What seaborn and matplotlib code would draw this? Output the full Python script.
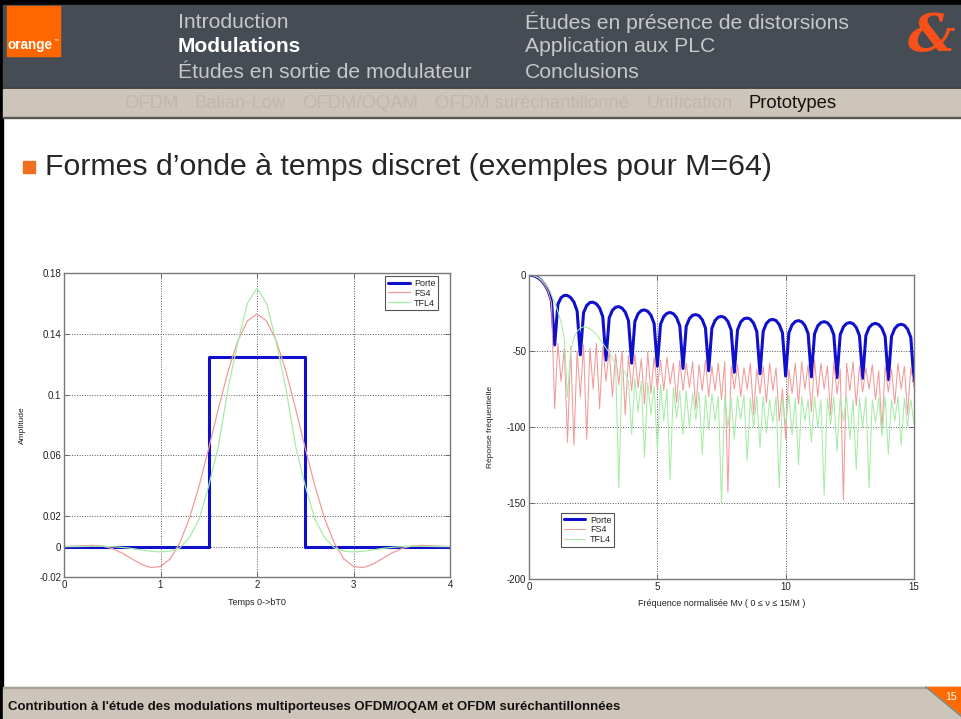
import numpy as np
import pandas as pd
import matplotlib
matplotlib.use("Agg")
import matplotlib.pyplot as plt
import seaborn as sns
from matplotlib.patches import Rectangle, Polygon

# ---------------- data ----------------
series_names = ["Porte", "FS4", "TFL4"]

# left chart: time-domain prototypes (time in units of T0)
porte_t = [0.0, 1.5, 1.5, 2.5, 2.5, 4.0]
porte_amp = [0.0, 0.0, 0.125, 0.125, 0.0, 0.0]

time_t = [0.0, 0.1, 0.2, 0.3, 0.4, 0.5, 0.6, 0.7, 0.8, 0.9, 1.0,
          1.1, 1.2, 1.3, 1.4, 1.5, 1.6, 1.7, 1.8, 1.9, 2.0,
          2.1, 2.2, 2.3, 2.4, 2.5, 2.6, 2.7, 2.8, 2.9, 3.0,
          3.1, 3.2, 3.3, 3.4, 3.5, 3.6, 3.7, 3.8, 3.9, 4.0]
fs4_amp = [0.0, 0.0002, 0.0006, 0.0008, 0.0003, -0.0013, -0.0042, -0.0079, -0.0116, -0.0138, -0.0131,
           -0.0081, 0.0024, 0.0186, 0.0399, 0.0647, 0.0908, 0.1153, 0.1353, 0.1484, 0.1530,
           0.1484, 0.1353, 0.1153, 0.0908, 0.0647, 0.0399, 0.0186, 0.0024, -0.0081, -0.0131,
           -0.0138, -0.0116, -0.0079, -0.0042, -0.0013, 0.0003, 0.0008, 0.0006, 0.0002, 0.0]
tfl4_amp = [0.0, 0.0, 0.0001, 0.0002, 0.0002, 0.0, -0.0005, -0.0012, -0.0022, -0.0031, -0.0035,
            -0.0030, -0.0008, 0.0060, 0.0180, 0.0400, 0.0660, 0.1040, 0.1340, 0.1600, 0.1700,
            0.1600, 0.1340, 0.1040, 0.0660, 0.0400, 0.0180, 0.0060, -0.0008, -0.0030, -0.0035,
            -0.0031, -0.0022, -0.0012, -0.0005, 0.0, 0.0002, 0.0002, 0.0001, 0.0, 0.0]

# right chart: frequency responses in dB, sampled every 1/8 of Mv from 0 to 15
freq_mv = np.linspace(0, 15, 121)
porte_db = [0, -0.2, -0.9, -2.1, -3.9, -6.6, -10.5, -17.1,
            -46, -19.3, -14.9, -13.4, -13.5, -14.9, -17.8, -23.7,
            -52.5, -24.8, -20.0, -18.1, -17.9, -19.0, -21.7, -27.5,
            -56, -28.2, -23.2, -21.2, -20.8, -21.8, -24.4, -30.0,
            -58, -30.6, -25.5, -23.4, -22.95, -23.9, -26.4, -32.0,
            -60, -32.4, -27.3, -25.2, -24.65, -25.5, -28.0, -33.5,
            -61.5, -33.8, -28.7, -26.5, -26.05, -26.8, -29.4, -34.9,
            -63, -35.0, -29.9, -27.7, -27.25, -28.0, -30.6, -36.1,
            -64, -36.1, -30.9, -28.8, -28.3, -29.1, -31.7, -37.2,
            -65, -37.0, -31.8, -29.7, -29.2, -30.0, -32.6, -38.1,
            -66.5, -38.0, -32.8, -30.6, -30.0, -30.75, -33.2, -38.6,
            -67, -38.7, -33.5, -31.3, -30.7, -31.4, -33.9, -39.3,
            -67.5, -39.3, -34.1, -31.9, -31.3, -32.0, -34.5, -39.9,
            -68, -39.9, -34.6, -32.4, -31.85, -32.6, -35.0, -40.4,
            -69, -40.4, -35.2, -33.0, -32.4, -33.1, -35.6, -41.0,
            -70]
fs4_db = [0, -0.2, -0.9, -2.1, -4.0, -6.8, -11.0, -18.5,
          -88,
          -45, -70, -48, -110, -47, -112, -50, -80,
          -46, -108, -48, -75, -45, -88, -47, -70,
          -49, -80, -52, -72, -50, -92, -53, -76,
          -52, -74, -55, -85, -51, -78, -54, -75,
          -56, -76, -54, -72, -58, -84, -56, -76,
          -58, -74, -57, -88, -59, -76, -56, -80,
          -60, -76, -58, -82, -57, -143, -60, -75,
          -59, -80, -61, -75, -58, -92, -62, -78,
          -60, -84, -58, -76, -61, -96, -75, -108,
          -62, -78, -58, -85, -57, -75, -59, -90,
          -56, -80, -58, -75, -60, -92, -57, -78,
          -62, -148, -58, -76, -57, -86, -60, -77,
          -61, -75, -59, -82, -63, -102, -60, -77,
          -62, -85, -58, -75, -60, -92, -61, -74]
tfl4_db = [0, -0.2, -0.8, -1.8, -3.3, -5.4, -8.4, -12.8,
           -18,
           -24, -31, -42, -80, -50, -41, -37, -35,
           -34, -34.5, -35.5, -37, -39, -42, -45, -48,
           -51, -55, -59, -140, -62, -64, -70, -105,
           -68, -90, -70, -120, -71, -92, -73, -115,
           -72, -96, -75, -135, -74, -94, -76, -105,
           -76, -100, -78, -95, -77, -118, -79, -102,
           -78, -96, -80, -150, -79, -100, -81, -108,
           -80, -95, -79, -122, -81, -100, -80, -114,
           -80, -104, -82, -97, -80, -140, -81, -98,
           -79, -105, -81, -125, -80, -96, -82, -110,
           -80, -100, -82, -145, -81, -98, -80, -116,
           -81, -96, -80, -108, -82, -128, -81, -100,
           -80, -140, -82, -97, -81, -106, -80, -118,
           -82, -96, -80, -112, -81, -100, -82, -98]

left_xticks = [0, 1, 2, 3, 4]
left_yticks = [-0.02, 0, 0.02, 0.06, 0.1, 0.14, 0.18]
left_yticklabels = ["-0.02", "0", "0.02", "0.06", "0.1", "0.14", "0.18"]
right_xticks = [0, 5, 10, 15]
right_yticks = [-200, -150, -100, -50, 0]

header_left = ["Introduction", "Modulations", "Études en sortie de modulateur"]
header_right = ["Études en présence de distorsions", "Application aux PLC", "Conclusions"]
subnav = ["OFDM", "Balian-Low", "OFDM/OQAM", "OFDM suréchantillonné", "Unification", "Prototypes"]

# ---------------- style ----------------
sns.set_theme(style="white")
plt.rcParams["font.family"] = ["Liberation Sans", "DejaVu Sans"]
plt.rcParams["axes.unicode_minus"] = False

colors = {"Porte": "#1010cc", "FS4": "#f29a9a", "TFL4": "#a6eca6"}
widths = {"Porte": 2.2, "FS4": 0.9, "TFL4": 0.9}

fig = plt.figure(figsize=(9.61, 7.19), dpi=100)
fig.patch.set_facecolor("white")

# slide decoration layer (pixel coordinates)
bg = fig.add_axes([0, 0, 1, 1])
bg.set_xlim(0, 961)
bg.set_ylim(719, 0)
bg.axis("off")

bg.add_patch(Rectangle((0, 0), 961, 5, color="black"))
bg.add_patch(Rectangle((0, 0), 2.5, 719, color="black"))
bg.add_patch(Rectangle((2.5, 5), 959, 83, color="#454c54"))
bg.add_patch(Rectangle((2.5, 87.5), 959, 1.5, color="#2b2b2b"))
bg.add_patch(Rectangle((2.5, 89), 959, 28, color="#cdc5b9"))
bg.add_patch(Rectangle((2.5, 116.5), 959, 1.5, color="#5c5650"))
bg.add_patch(Rectangle((2.5, 687), 959, 32, color="#cdc5b9"))
bg.add_patch(Rectangle((2.5, 686.5), 959, 1, color="#a8a198"))

# orange logo
bg.add_patch(Rectangle((7, 6), 53, 50, color="#ff6600"))
bg.text(8, 45, "orange", color="white", fontsize=9.8, fontweight="bold", va="center", ha="left")
bg.text(54, 40, "™", color="white", fontsize=3.5, va="center", ha="left")

# & logo
bg.text(931, 37, "&", color="#f8501a", fontsize=38, fontweight="bold", style="italic",
        family=["DejaVu Serif"], ha="center", va="center")

# header menu
rows_y = [22, 47, 73]
for i, (a, b) in enumerate(zip(header_left, header_right)):
    if i == 1:
        bg.text(178, rows_y[i], a, color="white", fontsize=15, fontweight="bold", va="center", ha="left")
    else:
        bg.text(178, rows_y[i], a, color="#c8c8c8", fontsize=15.2, va="center", ha="left")
    bg.text(525, rows_y[i], b, color="#c8c8c8", fontsize=15.2, va="center", ha="left")

sub_x = [124, 195, 302, 435, 647, 748]
for lab, xx in zip(subnav, sub_x):
    if lab == "Prototypes":
        bg.text(xx, 104, lab, color="#111111", fontsize=13.3, va="center", ha="left")
    else:
        bg.text(xx, 104, lab, color="#c0b8ac", fontsize=13.3, va="center", ha="left")

# bullet title
bg.add_patch(Rectangle((23, 161), 12, 12, color="#f07020"))
bg.text(45, 167, "Formes d’onde à temps discret (exemples pour M=64)", color="#262626",
        fontsize=21.8, va="center", ha="left")

# footer
bg.text(8, 707, "Contribution à l'étude des modulations multiporteuses OFDM/OQAM et OFDM suréchantillonnées",
        color="#111111", fontsize=9.5, fontweight="bold", va="center", ha="left")
bg.add_patch(Polygon([(928, 687), (961, 687), (961, 714)], closed=True, color="#ff6a00"))
bg.plot([926, 961], [687, 716], color="#8a847c", lw=1.2)
bg.text(951, 697, "15", color="white", fontsize=7.5, va="center", ha="center")


def style_axes(ax):
    ax.set_facecolor("white")
    for s in ax.spines.values():
        s.set_color("#7a7a7a")
        s.set_linewidth(1.0)
    ax.tick_params(axis="both", which="both", direction="in", length=3.5, width=0.6,
                   color="#555555", labelcolor="#222222", labelsize=7, pad=2,
                   bottom=True, left=True, top=True, right=True)
    ax.grid(True, color="#555555", linestyle=(0, (1, 1.6)), linewidth=0.7)
    ax.set_axisbelow(True)


# ---------------- left chart ----------------
axL = fig.add_axes([64 / 961, 1 - 577 / 719, 386 / 961, 304 / 719])
sns.lineplot(x=porte_t, y=porte_amp, ax=axL, color=colors["Porte"], lw=widths["Porte"],
             estimator=None, sort=False, label="Porte")
sns.lineplot(x=time_t, y=fs4_amp, ax=axL, color=colors["FS4"], lw=widths["FS4"],
             estimator=None, sort=False, label="FS4")
sns.lineplot(x=time_t, y=tfl4_amp, ax=axL, color=colors["TFL4"], lw=widths["TFL4"],
             estimator=None, sort=False, label="TFL4")
axL.set_xlim(0, 4)
axL.set_ylim(-0.02, 0.18)
axL.set_xticks(left_xticks)
axL.set_yticks(left_yticks)
axL.set_yticklabels(left_yticklabels)
style_axes(axL)
axL.set_xlabel("Temps 0->bT0", fontsize=6.5, color="#222222")
axL.set_ylabel("Amplitude", fontsize=6, color="#222222")
axL.xaxis.set_label_coords(0.5, -0.069)
axL.yaxis.set_label_coords(-0.098, 0.5)
legL = axL.legend(loc="upper right", bbox_to_anchor=(0.97, 0.99), borderaxespad=0,
                  fontsize=6.5, frameon=True, fancybox=False, framealpha=1,
                  edgecolor="#555555", handlelength=2.4, handletextpad=0.5,
                  labelspacing=0.1, borderpad=0.3)
legL.get_frame().set_linewidth(0.8)

# ---------------- right chart ----------------
axR = fig.add_axes([529 / 961, 1 - 579 / 719, 385 / 961, 304 / 719])
sns.lineplot(x=freq_mv, y=porte_db, ax=axR, color=colors["Porte"], lw=widths["Porte"],
             estimator=None, sort=False, label="Porte")
sns.lineplot(x=freq_mv, y=fs4_db, ax=axR, color=colors["FS4"], lw=0.75,
             estimator=None, sort=False, label="FS4")
sns.lineplot(x=freq_mv, y=tfl4_db, ax=axR, color=colors["TFL4"], lw=0.75,
             estimator=None, sort=False, label="TFL4")
axR.set_xlim(0, 15)
axR.set_ylim(-200, 0)
axR.set_xticks(right_xticks)
axR.set_yticks(right_yticks)
style_axes(axR)
axR.set_xlabel("Fréquence normalisée Mν ( 0 ≤ ν ≤ 15/M )", fontsize=6.5, color="#222222")
axR.set_ylabel("Réponse fréquentielle", fontsize=6, color="#222222")
axR.xaxis.set_label_coords(0.5, -0.066)
axR.yaxis.set_label_coords(-0.091, 0.5)
legR = axR.legend(loc="lower left", bbox_to_anchor=(0.083, 0.105), borderaxespad=0,
                  fontsize=6.5, frameon=True, fancybox=False, framealpha=1,
                  edgecolor="#555555", handlelength=2.4, handletextpad=0.5,
                  labelspacing=0.1, borderpad=0.3)
legR.get_frame().set_linewidth(0.8)

fig.savefig("out.png", dpi=100)
